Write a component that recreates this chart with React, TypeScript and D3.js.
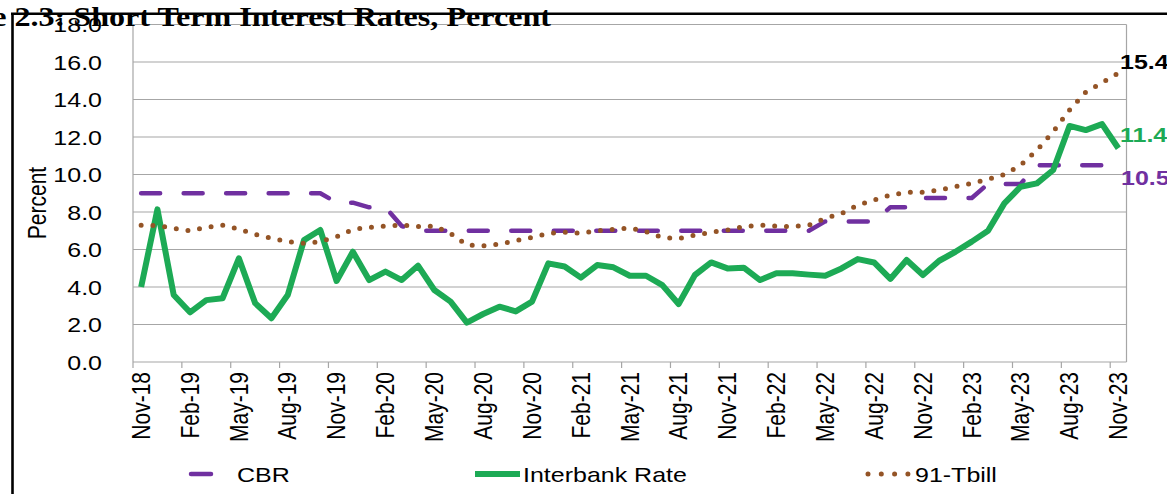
import React from 'react';
import * as d3 from 'd3';

const months = [
  'Nov-18', 'Dec-18', 'Jan-19', 'Feb-19', 'Mar-19', 'Apr-19', 'May-19', 'Jun-19', 'Jul-19', 'Aug-19', 'Sep-19', 'Oct-19',
  'Nov-19', 'Dec-19', 'Jan-20', 'Feb-20', 'Mar-20', 'Apr-20', 'May-20', 'Jun-20', 'Jul-20', 'Aug-20', 'Sep-20', 'Oct-20',
  'Nov-20', 'Dec-20', 'Jan-21', 'Feb-21', 'Mar-21', 'Apr-21', 'May-21', 'Jun-21', 'Jul-21', 'Aug-21', 'Sep-21', 'Oct-21',
  'Nov-21', 'Dec-21', 'Jan-22', 'Feb-22', 'Mar-22', 'Apr-22', 'May-22', 'Jun-22', 'Jul-22', 'Aug-22', 'Sep-22', 'Oct-22',
  'Nov-22', 'Dec-22', 'Jan-23', 'Feb-23', 'Mar-23', 'Apr-23', 'May-23', 'Jun-23', 'Jul-23', 'Aug-23', 'Sep-23', 'Oct-23',
  'Nov-23',
];

const cbr = [
  9, 9, 9, 9, 9, 9, 9, 9, 9, 9, 9, 9,
  8.5, 8.5, 8.25, 8.25, 7.25, 7, 7, 7, 7, 7, 7, 7,
  7, 7, 7, 7, 7, 7, 7, 7, 7, 7, 7, 7,
  7, 7, 7, 7, 7, 7, 7.5, 7.5, 7.5, 7.5, 8.25, 8.25,
  8.75, 8.75, 8.75, 8.75, 9.5, 9.5, 9.5, 10.5, 10.5, 10.5, 10.5, 10.5,
  10.5,
];

const interbank = [
  4.0, 8.14, 3.57, 2.65, 3.3, 3.4, 5.53, 3.14, 2.33, 3.57, 6.5, 7.04,
  4.32, 5.88, 4.37, 4.82, 4.37, 5.14, 3.84, 3.22, 2.1, 2.56, 2.95, 2.7,
  3.22, 5.26, 5.09, 4.5, 5.17, 5.05, 4.6, 4.6, 4.1, 3.09, 4.64, 5.31,
  4.99, 5.03, 4.37, 4.73, 4.73, 4.66, 4.6, 4.99, 5.49, 5.31, 4.43, 5.44,
  4.64, 5.4, 5.88, 6.42, 7.0, 8.46, 9.35, 9.53, 10.24, 12.59, 12.37, 12.69,
  11.4,
];

const tbill = [
  7.3, 7.27, 7.13, 6.99, 7.18, 7.3, 7.09, 6.8, 6.6, 6.42, 6.33, 6.42,
  6.68, 7.07, 7.18, 7.25, 7.3, 7.22, 7.25, 6.86, 6.24, 6.2, 6.28, 6.47,
  6.65, 6.86, 6.92, 6.86, 7.0, 7.07, 7.15, 6.95, 6.65, 6.58, 6.77, 6.92,
  7.04, 7.22, 7.3, 7.25, 7.22, 7.3, 7.66, 7.92, 8.37, 8.64, 8.9, 9.05,
  9.05, 9.17, 9.35, 9.53, 9.74, 10.0, 10.5, 11.3, 12.28, 13.44, 14.4, 14.9,
  15.4,
];

const yTicks = [0, 2, 4, 6, 8, 10, 12, 14, 16, 18];

// the source picture is stretched sideways, so text gets a horizontal scale
const SX = 1.19;
const FONT = 'Arial, "Liberation Sans", sans-serif';

const COL_CBR = '#7030A0';
const COL_IB = '#1DAA55';
const COL_TB = '#945426';

export default function App() {
  const left = 133, right = 1126.5, top = 24.5, bottom = 362;

  const x = d3.scaleBand().domain(months).range([left, right]).paddingInner(0).paddingOuter(0);
  const y = d3.scaleLinear().domain([0, 18]).range([bottom, top]);
  const cx = (i: number) => (x(months[i]) as number) + x.bandwidth() / 2;

  const line = d3.line<number>().x((d, i) => cx(i)).y((d) => y(d));

  const tickMonths = months.filter((m, i) => i % 3 === 0);
  const last = months.length - 1;

  return (
    <svg width={1167} height={494} style={{ position: 'absolute', left: 0, top: 0, background: '#fff' }}>
      {/* grid */}
      {yTicks.map((t) => (
        <line key={'g' + t} x1={left} x2={right} y1={y(t)} y2={y(t)} stroke="#a6a6a6" strokeWidth={1.2} />
      ))}
      <line x1={left} x2={left} y1={top} y2={bottom} stroke="#a6a6a6" strokeWidth={1.2} />
      <line x1={right} x2={right} y1={top} y2={bottom} stroke="#a6a6a6" strokeWidth={1.2} />

      {/* x ticks + labels */}
      {tickMonths.map((m) => (
        <line key={'t' + m} x1={x(m)} x2={x(m)} y1={bottom} y2={bottom + 6} stroke="#a6a6a6" strokeWidth={1.2} />
      ))}
      {tickMonths.map((m) => (
        <text
          key={'l' + m}
          transform={`translate(${(x(m) as number) + x.bandwidth() / 2},372) scale(${SX},1) rotate(-90)`}
          textAnchor="end"
          dy="0.35em"
          fontFamily={FONT}
          fontSize={21}
          fill="#000"
        >
          {m}
        </text>
      ))}

      {/* y labels */}
      {yTicks.map((t) => (
        <text
          key={'y' + t}
          transform={`translate(102,${y(t)}) scale(${SX},1)`}
          textAnchor="end"
          dy="0.36em"
          fontFamily={FONT}
          fontSize={21}
          fill="#000"
        >
          {t.toFixed(1)}
        </text>
      ))}
      <text
        transform={`translate(37,203) scale(${SX},1) rotate(-90)`}
        textAnchor="middle"
        dy="0.35em"
        fontFamily={FONT}
        fontSize={21}
        fill="#000"
      >
        Percent
      </text>

      {/* series */}
      <path d={line(cbr) as string} fill="none" stroke={COL_CBR} strokeWidth={4.5}
        strokeDasharray="19 23.5" strokeLinecap="round" strokeLinejoin="round" />
      <path d={line(interbank) as string} fill="none" stroke={COL_IB} strokeWidth={6}
        strokeLinejoin="round" />
      <path d={line(tbill) as string} fill="none" stroke={COL_TB} strokeWidth={5}
        strokeDasharray="0 11.8" strokeLinecap="round" />

      {/* end labels */}
      <text transform={`translate(1120,${y(tbill[last]) - 4}) scale(${SX},1)`} fontFamily={FONT} fontSize={21}
        fontWeight="bold" fill="#000">{tbill[last].toFixed(1)}</text>
      <text transform={`translate(1120,${y(interbank[last]) - 6}) scale(${SX},1)`} fontFamily={FONT} fontSize={21}
        fontWeight="bold" fill={COL_IB}>{interbank[last].toFixed(1)}</text>
      <text transform={`translate(1121,${y(cbr[last]) + 20}) scale(${SX},1)`} fontFamily={FONT} fontSize={21}
        fontWeight="bold" fill={COL_CBR}>{cbr[last].toFixed(1)}</text>

      {/* legend */}
      <line x1={191} x2={211} y1={474} y2={474} stroke={COL_CBR} strokeWidth={4.5} strokeLinecap="round" />
      <text transform={`translate(237,482) scale(${SX},1)`} fontFamily={FONT} fontSize={21} fill="#000">CBR</text>
      <line x1={475} x2={520} y1={474} y2={474} stroke={COL_IB} strokeWidth={6} />
      <text transform={`translate(523,482) scale(${SX},1)`} fontFamily={FONT} fontSize={21} fill="#000">Interbank Rate</text>
      <line x1={868} x2={908} y1={474} y2={474} stroke={COL_TB} strokeWidth={5}
        strokeDasharray="0 13.3" strokeLinecap="round" />
      <text transform={`translate(915,482) scale(${SX},1)`} fontFamily={FONT} fontSize={21} fill="#000">91-Tbill</text>

      {/* frame + title */}
      <line x1={12.5} x2={12.5} y1={13} y2={494} stroke="#000" strokeWidth={2.6} />
      <line x1={11} x2={1167} y1={13.8} y2={13.8} stroke="#000" strokeWidth={2.4} />
      <text
        transform={`translate(551,26) scale(${SX},1)`}
        textAnchor="end"
        fontFamily='"Times New Roman", "Liberation Serif", serif'
        fontWeight="bold"
        fontSize={27}
        fill="#000"
      >
        Figure 2.3: Short Term Interest Rates, Percent
      </text>
    </svg>
  );
}
